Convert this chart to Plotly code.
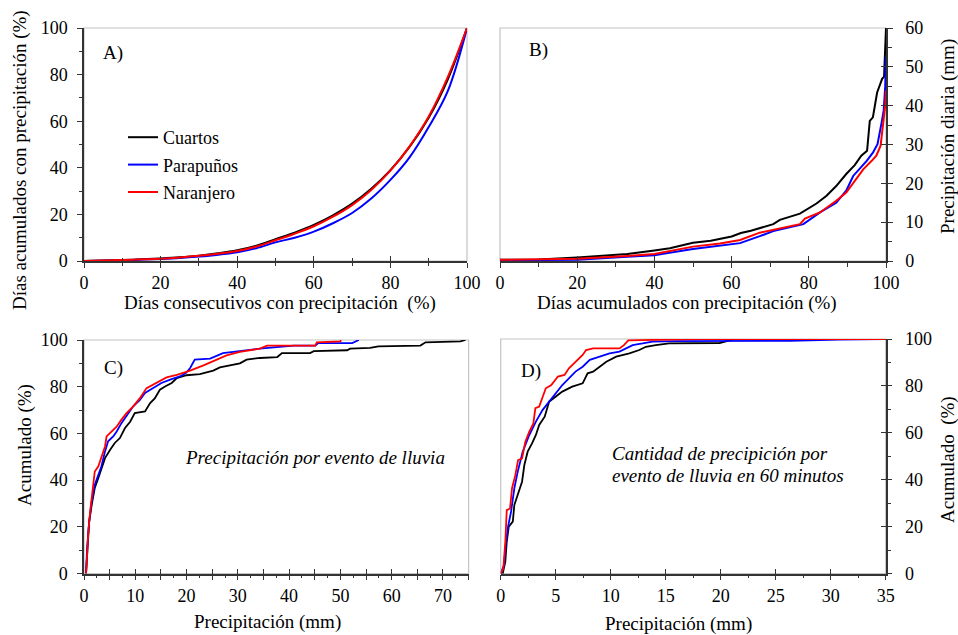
import plotly.graph_objects as go

W, H = 958, 635

# ---------------- data ----------------
series_names = ["Cuartos", "Parapuños", "Naranjero"]
series_colors = ["#000000", "#0000FF", "#FF0000"]

# A) Días consecutivos con precipitación vs días acumulados
a_x = [0, 5, 10, 15, 20, 25, 30, 35, 40, 45, 50, 55, 60, 65, 70, 75, 80, 85, 90, 95, 100]
a_cuartos = [0, 0.2, 0.4, 0.7, 1.1, 1.6, 2.3, 3.3, 4.6, 6.6, 9.4, 12.2, 15.5, 19.6, 24.6, 31, 39, 49, 61.5, 78, 100]
a_parapunos = [0, 0.15, 0.3, 0.6, 0.9, 1.3, 1.9, 2.7, 3.8, 5.5, 8.0, 10.0, 12.6, 16.2, 20.6, 26.8, 34.8, 44.5, 57.5, 73, 100]
a_naranjero = [0, 0.2, 0.4, 0.7, 1.0, 1.5, 2.2, 3.1, 4.3, 6.2, 8.9, 11.7, 14.9, 19, 24, 30.5, 38.8, 49.2, 62, 79, 100]

# B) Días acumulados vs precipitación diaria (mm)
b_cuartos_x = [0, 10, 20, 27, 33, 40, 44, 50, 54.6, 60, 62.4, 65, 70.8, 72.5, 77.7, 82, 84.6, 87.1, 89.7, 91.9, 93.6, 95.1, 95.8, 96.6, 97.7, 99.0, 99.5, 99.8, 100]
b_cuartos_y = [0.3, 0.4, 0.9, 1.3, 1.8, 2.7, 3.3, 4.7, 5.2, 6.3, 7.2, 7.8, 9.5, 10.6, 12.2, 14.8, 16.8, 19.3, 22.4, 24.7, 27.1, 28.4, 36.1, 37, 43.4, 46.9, 47.5, 55, 60]
b_parapunos_x = [0, 20, 33, 40, 50, 59, 62.2, 67.3, 70.8, 78.6, 82.9, 87.1, 89.7, 91.5, 93.6, 95, 96.6, 97.8, 98.8, 99.4, 99.8, 100]
b_parapunos_y = [0.2, 0.3, 1.1, 1.5, 3.1, 4.1, 4.6, 6.4, 7.7, 9.5, 12.5, 15.0, 18.1, 21.9, 24.1, 25.8, 27.9, 30.1, 35.3, 38.7, 45, 52.5]
b_naranjero_x = [0, 20, 33, 40, 50, 57, 62.2, 67.3, 77.7, 79, 82.9, 87.1, 89.7, 91.9, 94.1, 96.3, 97.5, 98.6, 99.4, 99.8, 100]
b_naranjero_y = [0.3, 0.6, 1.3, 1.8, 3.7, 4.5, 5.4, 7.3, 9.5, 10.9, 12.5, 15.5, 17.6, 20.6, 23.6, 25.8, 27.1, 29.7, 37, 40, 44]

# C) Precipitación por evento de lluvia (mm) vs acumulado (%)
c_cuartos_x = [0.4, 0.6, 1.0, 1.5, 2.1, 2.8, 3.4, 4.1, 5.1, 6.0, 7.0, 8.0, 9.0, 9.9, 11.9, 12.9, 13.8, 14.8, 15.8, 17.1, 18.1, 20, 22.6, 25.2, 26.5, 28.4, 30.4, 31.7, 34.3, 37.7, 38.6, 44.1, 44.8, 51.3, 51.9, 55.8, 57.4, 65.6, 66.6, 73.4, 74.4]
c_cuartos_y = [0, 9.4, 22, 29.4, 36.6, 40.9, 45, 49.4, 53, 55.9, 58, 62.3, 65, 68.7, 69.4, 73, 75, 78.7, 80.1, 81.6, 83.7, 84.9, 85.4, 86.9, 88.3, 89, 90, 91.6, 92.3, 92.7, 94.4, 94.4, 95.2, 95.6, 96.3, 96.6, 97.3, 97.6, 99, 99.4, 100]
c_parapunos_x = [0.4, 0.6, 1.0, 1.5, 2.1, 2.8, 3.4, 4.1, 4.7, 5.7, 6.4, 7.3, 8.3, 9.6, 10.9, 11.9, 13.5, 15.1, 16.8, 18.7, 19.9, 20.7, 21.6, 24.6, 27.1, 29.7, 34.3, 40.9, 45.1, 45.7, 52.3, 53.6]
c_parapunos_y = [0, 10.9, 22, 30.9, 38, 42.3, 45.9, 52.3, 56.6, 58.7, 60.9, 64.4, 67.3, 71.6, 74.4, 77.3, 79.4, 81.6, 83, 84.4, 85.9, 88, 91.6, 92, 94.4, 95.1, 96.3, 97.6, 97.6, 98.7, 98.7, 100]
c_naranjero_x = [0.4, 0.6, 0.85, 1.2, 1.7, 2.1, 2.8, 3.4, 4.1, 4.4, 5.4, 6.4, 7.3, 8.3, 9.6, 10.9, 12.2, 14.2, 16.1, 18.1, 20.7, 23.3, 25.9, 27.8, 30.4, 34.3, 35.7, 45.1, 45.4, 50.0, 50.1]
c_naranjero_y = [0, 10, 18, 26.6, 36.6, 43.7, 45.9, 50.1, 54.4, 58.7, 60.9, 63, 65.9, 68.7, 71.6, 75.1, 79.4, 81.6, 84, 85.1, 86.9, 89.1, 91.6, 93.4, 94.9, 96.3, 97.6, 97.6, 99, 99.4, 100]

# D) Precipitación por evento en 60 minutos (mm) vs acumulado (%)
d_cuartos_x = [0.18, 0.42, 0.55, 0.73, 1.1, 1.24, 1.64, 1.94, 2.15, 2.45, 2.85, 3.2, 3.5, 4.0, 4.4, 5.0, 5.6, 6.5, 7.45, 7.9, 8.4, 9.0, 9.6, 10.5, 11.7, 12.6, 13.2, 14.1, 15.3, 19.9, 20.8, 21.3, 35]
d_cuartos_y = [0, 5.1, 13.6, 20, 22.2, 29.3, 34.9, 39.2, 46.3, 52, 55.5, 59.1, 63.4, 66.9, 73.3, 75.4, 77.6, 79.7, 81.1, 85.4, 86.1, 88.2, 90.3, 92.5, 93.9, 95.3, 96.7, 97.4, 98.1, 98.3, 99.4, 100, 100]
d_parapunos_x = [0, 0.3, 0.48, 0.67, 0.94, 1.24, 1.55, 2.0, 2.6, 3.2, 3.8, 4.4, 5.0, 5.6, 6.2, 6.8, 7.45, 8.1, 9.0, 9.9, 10.8, 11.4, 12.0, 12.9, 13.8, 16.0, 26.3, 30.8, 35]
d_parapunos_y = [0, 3.7, 13.6, 20, 26.4, 36.4, 43.5, 52, 59.1, 64.8, 69.7, 73.3, 76.8, 80.4, 83.2, 86.1, 88.2, 91.1, 92.5, 93.9, 94.6, 96, 97.4, 98.1, 98.9, 99.1, 99.2, 99.7, 100]
d_naranjero_x = [0, 0.24, 0.42, 0.55, 0.85, 1.03, 1.33, 1.58, 1.94, 2.24, 2.6, 2.97, 3.15, 3.5, 4.1, 4.6, 5.2, 5.8, 6.2, 6.8, 7.45, 7.76, 8.4, 10.8, 11.2, 11.6, 17.8, 35]
d_naranjero_y = [0, 2.3, 13.6, 27.1, 27.8, 36.4, 42, 48.4, 49.1, 56.2, 60.5, 64, 70.5, 71.2, 79, 80.4, 84, 84.7, 87.5, 90.3, 93.2, 95.3, 96, 96, 97.4, 99.4, 100, 100]

# tick labels
c_x_ticks = [0, 5, 10, 15, 20, 25, 30, 35, 40, 45, 50, 55, 60, 65, 70, 75]
c_x_labels = ["0", "", "10", "", "20", "", "30", "", "40", "", "50", "", "60", "", "70", ""]

# ---------------- figure ----------------
FONT = "Liberation Serif"
AX = "#333333"
fig = go.Figure()


def add_series(xs_list, ys_list, xa, ya, shape="linear", width=1.8, legend=False):
    for i, (xs, ys) in enumerate(zip(xs_list, ys_list)):
        fig.add_trace(go.Scatter(
            x=xs, y=ys, mode="lines", name=series_names[i],
            line=dict(color=series_colors[i], width=width, shape=shape),
            xaxis=xa, yaxis=ya, showlegend=legend, legendgroup=series_names[i],
        ))


add_series([a_x, a_x, a_x], [a_cuartos, a_parapunos, a_naranjero], "x", "y", shape="spline", width=2, legend=True)
add_series([b_cuartos_x, b_parapunos_x, b_naranjero_x], [b_cuartos_y, b_parapunos_y, b_naranjero_y], "x2", "y2", width=2)
add_series([c_cuartos_x, c_parapunos_x, c_naranjero_x], [c_cuartos_y, c_parapunos_y, c_naranjero_y], "x3", "y3", width=1.8)
add_series([d_cuartos_x, d_parapunos_x, d_naranjero_x], [d_cuartos_y, d_parapunos_y, d_naranjero_y], "x4", "y4", width=1.8)

# dummy traces so overlay axes (for crossing ticks) are drawn
for xa, ya in [("x5", "y"), ("x6", "y2"), ("x7", "y3"), ("x8", "y4"), ("x2", "y5"), ("x4", "y6")]:
    fig.add_trace(go.Scatter(x=[None], y=[None], xaxis=xa, yaxis=ya, showlegend=False, hoverinfo="skip"))

tickfont = dict(family=FONT, size=18, color="black")


def px(v):
    return v / W


def py(v):
    return 1 - v / H


dom = {
    "A": ([px(84), px(467)], [py(261), py(28)]),
    "B": ([px(500), px(886)], [py(261), py(28)]),
    "C": ([px(84), px(468.6)], [py(573.5), py(340)]),
    "D": ([px(500.7), px(885.7)], [py(573.7), py(339)]),
}


def base_axis(**kw):
    d = dict(showgrid=False, zeroline=False, showline=True, linecolor=AX, linewidth=1.5,
             ticks="outside", ticklen=5, tickwidth=1.2, tickcolor=AX, tickfont=tickfont,
             fixedrange=True, automargin=False)
    d.update(kw)
    return d


def overlay_axis(**kw):
    d = dict(showgrid=False, zeroline=False, showline=False, showticklabels=False,
             ticks="inside", ticklen=5, tickwidth=1.2, tickcolor=AX, fixedrange=True,
             automargin=False)
    d.update(kw)
    return d


fig.update_layout(
    xaxis=base_axis(domain=dom["A"][0], range=[0, 100], anchor="y", dtick=20,
                    minor=dict(dtick=10, ticks="outside", ticklen=3, tickcolor=AX)),
    yaxis=base_axis(domain=dom["A"][1], range=[0, 100], anchor="x", dtick=20, ticklabelstandoff=6,
                    minor=dict(dtick=10, ticks="outside", ticklen=3, tickcolor=AX)),
    xaxis5=overlay_axis(overlaying="x", anchor="y", range=[0, 100], dtick=20,
                        minor=dict(dtick=10, ticks="inside", ticklen=3, tickcolor=AX)),

    xaxis2=base_axis(domain=dom["B"][0], range=[0, 100], anchor="y2", dtick=20,
                     minor=dict(dtick=10, ticks="outside", ticklen=4, tickcolor=AX)),
    yaxis2=base_axis(domain=dom["B"][1], range=[0, 60], anchor="x2", side="right", dtick=10,
                     ticklabelstandoff=9,
                     minor=dict(dtick=5, ticks="outside", ticklen=4, tickcolor=AX)),
    xaxis6=overlay_axis(overlaying="x2", anchor="y2", range=[0, 100], dtick=20),
    yaxis5=overlay_axis(overlaying="y2", anchor="x2", side="right", range=[0, 60], dtick=10),

    xaxis3=base_axis(domain=dom["C"][0], range=[0, 75], anchor="y3", tickmode="array",
                     tickvals=c_x_ticks, ticktext=c_x_labels,
                     minor=dict(dtick=2.5, ticks="outside", ticklen=3, tickcolor=AX)),
    yaxis3=base_axis(domain=dom["C"][1], range=[0, 100], anchor="x3", dtick=20, ticklabelstandoff=6,
                     minor=dict(dtick=10, ticks="outside", ticklen=3, tickcolor=AX)),
    xaxis7=overlay_axis(overlaying="x3", anchor="y3", range=[0, 75], dtick=5),

    xaxis4=base_axis(domain=dom["D"][0], range=[0, 35], anchor="y4", dtick=5,
                     minor=dict(dtick=2.5, ticks="outside", ticklen=3, tickcolor=AX)),
    yaxis4=base_axis(domain=dom["D"][1], range=[0, 100], anchor="x4", side="right", dtick=20,
                     ticklabelstandoff=9,
                     minor=dict(dtick=10, ticks="outside", ticklen=4, tickcolor=AX)),
    xaxis8=overlay_axis(overlaying="x4", anchor="y4", range=[0, 35], dtick=5),
    yaxis6=overlay_axis(overlaying="y4", anchor="x4", side="right", range=[0, 100], dtick=20),
)

# light grey frame on each panel
for xr, yr in [("x", "y"), ("x2", "y2"), ("x3", "y3"), ("x4", "y4")]:
    fig.add_shape(type="rect", xref=f"{xr} domain", yref=f"{yr} domain", x0=0, x1=1, y0=0, y1=1,
                  line=dict(color="#c4c4c4", width=1.2), layer="below")

ann = []


def text(x, y, t, size=19, angle=0, xanchor="center", italic=False):
    ann.append(dict(x=px(x), y=py(y), xref="paper", yref="paper", text=(f"<i>{t}</i>" if italic else t),
                    showarrow=False, textangle=angle, xanchor=xanchor, yanchor="middle",
                    font=dict(family=FONT, size=size, color="black")))


# panel letters
text(101, 53, "A)", xanchor="left")
text(527, 50, "B)", xanchor="left")
text(102, 368, "C)", xanchor="left")
text(519, 371, "D)", xanchor="left")

# axis titles
text(20, 160, "Días acumulados con precipitación (%)", angle=-90)
text(280, 303, "Días consecutivos con precipitación  (%)")
text(687, 303, "Días acumulados con precipitación (%)")
text(948, 137, "Precipitación diaria (mm)", angle=-90)
text(25, 445, "Acumulado (%)", angle=-90)
text(267, 622, "Precipitación (mm)")
text(678, 624, "Precipitación (mm)")
text(948, 460, "Acumulado  (%)", angle=-90)

# inner annotations
text(315, 457, "Precipitación por evento de lluvia", italic=True)
text(610, 453, "Cantidad de precipición por", italic=True, xanchor="left")
text(610, 475, "evento de lluvia en 60 minutos", italic=True, xanchor="left")

fig.update_layout(
    annotations=ann,
    width=W, height=H, autosize=False,
    margin=dict(l=0, r=0, t=0, b=0),
    paper_bgcolor="white", plot_bgcolor="white",
    font=dict(family=FONT, size=18, color="black"),
    showlegend=True,
    legend=dict(x=px(123), y=py(119), xanchor="left", yanchor="top",
                bgcolor="rgba(0,0,0,0)", borderwidth=0, traceorder="grouped",
                tracegroupgap=1, font=dict(family=FONT, size=18, color="black"),
                itemwidth=30),
)

fig.write_html("out.html")
